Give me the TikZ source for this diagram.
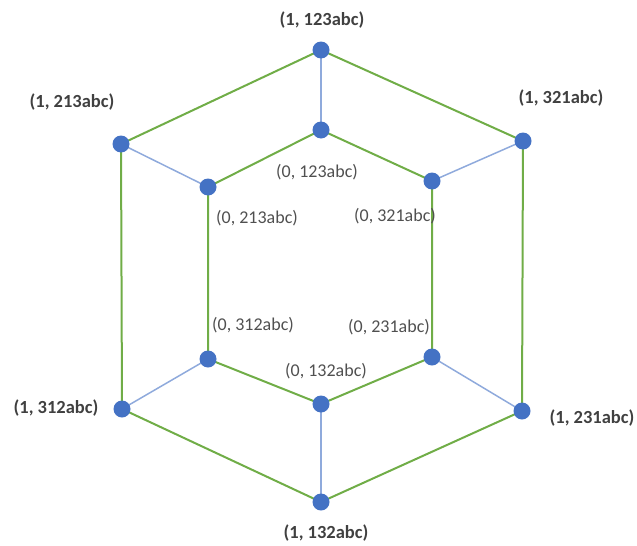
\documentclass[tikz,border=0pt]{standalone}
\usepackage{fontspec}
\setmainfont{Carlito}
\definecolor{edgegreen}{RGB}{112,173,71}
\definecolor{spokeblue}{RGB}{143,170,220}
\definecolor{dotblue}{RGB}{68,114,196}
\definecolor{labelgray}{RGB}{64,64,64}
\definecolor{innergray}{RGB}{80,80,80}
\begin{document}
\begin{tikzpicture}[x=1pt,y=-1pt,
  vtx/.style={circle,inner sep=0pt,minimum size=17pt},
  rim/.style={draw=edgegreen,line width=2pt},
  spoke/.style={draw=spokeblue,line width=1.5pt},
  outerlbl/.style={text=labelgray,font=\fontsize{18.5}{20}\selectfont\bfseries,inner sep=0pt},
  innerlbl/.style={text=innergray,font=\fontsize{18}{20}\selectfont,inner sep=0pt}]
\useasboundingbox (0,0) rectangle (637,546);
% outer hexagon vertices
\node[vtx] (o123) at (321,50) {};
\node[vtx] (o213) at (121,144) {};
\node[vtx] (o321) at (523,141) {};
\node[vtx] (o312) at (122,409) {};
\node[vtx] (o231) at (522,411) {};
\node[vtx] (o132) at (321,502) {};
% inner hexagon vertices
\node[vtx] (i123) at (321,130) {};
\node[vtx] (i213) at (208,187) {};
\node[vtx] (i321) at (432,181) {};
\node[vtx] (i312) at (208,359) {};
\node[vtx] (i231) at (432,357) {};
\node[vtx] (i132) at (321,404) {};
% spokes between the two hexagons
\draw[spoke] (o123.center) -- (i123.center);
\draw[spoke] (o213.center) -- (i213.center);
\draw[spoke] (o321.center) -- (i321.center);
\draw[spoke] (o312.center) -- (i312.center);
\draw[spoke] (o231.center) -- (i231.center);
\draw[spoke] (o132.center) -- (i132.center);
% hexagon rims
\draw[rim] (o123.center) -- (o321.center) -- (o231.center) -- (o132.center) -- (o312.center) -- (o213.center) -- cycle;
\draw[rim] (i123.center) -- (i321.center) -- (i231.center) -- (i132.center) -- (i312.center) -- (i213.center) -- cycle;
% vertex dots on top of the edges
\foreach \v in {o123,o213,o321,o312,o231,o132,i123,i213,i321,i312,i231,i132}
  \fill[dotblue] (\v.center) circle (8.5pt);
% labels
\node[outerlbl] (l1) at (322,20) {(1, 123abc)};
\node[outerlbl] (l2) at (72,102) {(1, 213abc)};
\node[outerlbl] (l3) at (561,98) {(1, 321abc)};
\node[outerlbl] (l4) at (56,408) {(1, 312abc)};
\node[outerlbl] (l5) at (592,418) {(1, 231abc)};
\node[outerlbl] (l6) at (326,533) {(1, 132abc)};
\node[innerlbl] (l7) at (317,172) {(0, 123abc)};
\node[innerlbl] (l8) at (257,218) {(0, 213abc)};
\node[innerlbl] (l9) at (395,216) {(0, 321abc)};
\node[innerlbl] (l10) at (253,325) {(0, 312abc)};
\node[innerlbl] (l11) at (389,327) {(0, 231abc)};
\node[innerlbl] (l12) at (326,371) {(0, 132abc)};
\end{tikzpicture}
\end{document}
